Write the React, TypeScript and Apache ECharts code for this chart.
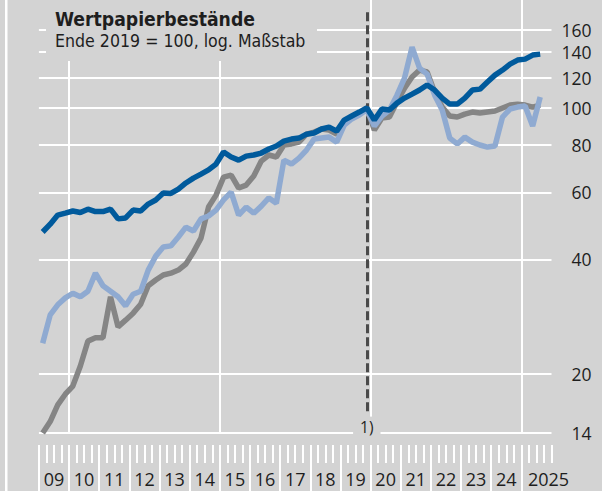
import React, { useEffect, useRef } from 'react';
import * as echarts from 'echarts';

// ---- data ----
const firstYear = 2009;
const lastYear = 2025;
const yearLabels = ['09', '10', '11', '12', '13', '14', '15', '16', '17', '18', '19', '20', '21', '22', '23', '24', '2025'];
const gridValues = [14, 20, 40, 60, 80, 100, 120, 140, 160];
const verticalGridYears = [2010, 2015, 2020, 2025];
const markerPeriod = 2019.875; // Q4 2019 (= 100)
const markerLabel = '1)';
const titleText = 'Wertpapierbestände';
const subtitleText = 'Ende 2019 = 100, log. Maßstab';

// quarterly values, 2009 Q1 ... 2025 Q3
const grayValues = [
  14.0, 15.0, 16.6, 17.7, 18.6, 21.0, 24.4, 24.9, 24.9, 31.9,
  26.6, 27.7, 28.9, 30.5, 34.1, 35.3, 36.4, 36.8, 37.5, 38.9,
  41.8, 45.5, 54.9, 59.0, 65.8, 66.6, 61.6, 62.7, 66.2, 72.5,
  75.2, 74.3, 79.9, 80.4, 81.3, 85.3, 86.4, 88.0, 87.4, 85.3,
  91.8, 94.6, 96.3, 100, 87.4, 94.0, 94.6, 103.6, 112.7, 120.5,
  125.7, 124.2, 110.0, 100.5, 95.2, 94.6, 96.3, 97.5, 96.9, 97.5,
  98.1, 99.9, 101.7, 102.3, 101.7, 100.5, 101.7,
];
const lightBlueValues = [
  24.1, 28.6, 30.4, 31.7, 32.6, 31.9, 33.0, 36.8, 34.1, 33.0,
  31.9, 30.2, 32.4, 33.0, 37.5, 40.8, 43.1, 43.4, 45.8, 48.6,
  47.5, 51.1, 52.0, 53.9, 57.3, 60.1, 52.3, 54.9, 52.9, 55.2,
  58.0, 56.2, 72.9, 71.2, 73.8, 77.5, 82.8, 83.3, 83.8, 81.3,
  90.1, 93.5, 95.7, 99, 89.6, 95.2, 98.7, 108.0, 119.7, 144.4,
  127.2, 122.7, 108.0, 98.7, 83.3, 80.4, 83.8, 81.3, 79.9, 78.9,
  79.4, 94.6, 99.3, 100.5, 101.1, 89.6, 106.8,
];
const darkBlueValues = [
  47.2, 49.5, 52.3, 52.9, 53.6, 53.1, 54.2, 53.4, 53.4, 54.2,
  51.1, 51.4, 53.9, 53.6, 55.9, 57.3, 59.8, 59.6, 61.2, 63.5,
  65.4, 67.0, 68.7, 71.2, 76.6, 74.3, 72.9, 74.7, 75.2, 76.1,
  78.0, 79.4, 81.8, 82.8, 83.3, 85.3, 85.9, 88.0, 89.0, 86.9,
  92.9, 95.2, 97.5, 100, 92.9, 99.3, 98.7, 102.9, 106.1, 108.7,
  111.4, 114.8, 111.4, 106.1, 102.3, 102.3, 106.1, 111.4, 112.0, 116.9,
  121.9, 125.7, 130.3, 133.5, 134.3, 137.6, 138.4,
];

// ---- styling ----
const BG = '#d3d3d3';
const FONT = '"Open Sans", "Noto Sans", sans-serif';
const TITLE_FONT = '"DejaVu Sans Condensed", "DejaVu Sans", sans-serif';
const TEXT = '#1e1e1e';
const WHITE = '#ffffff';

const toPoints = (vals: number[]) => vals.map((v, i) => [firstYear + (i + 0.5) / 4, v]);

const years: number[] = [];
for (let y = firstYear; y <= lastYear; y++) years.push(y);
const yearTicks = years.slice();
const quarterTicks: number[] = [];
years.forEach((y) => {
  quarterTicks.push(y + 0.25, y + 0.5, y + 0.75);
});
quarterTicks.push(lastYear + 1);
const labelPositions = years.map((y) => (y === lastYear ? y + 0.9 : y + 0.5));

export default function App() {
  const ref = useRef<HTMLDivElement>(null);
  useEffect(() => {
    if (!ref.current) return;
    const chart = echarts.init(ref.current, undefined, { renderer: 'svg' });
    const baseX = {
      type: 'value',
      min: firstYear,
      max: lastYear + 1,
      position: 'bottom',
      offset: 12,
      axisLine: { show: false },
      splitLine: { show: false },
    };
    const option: any = {
      animation: false,
      backgroundColor: BG,
      grid: { left: 38.9, right: 50.5, top: 0, bottom: 58, containLabel: false },
      xAxis: [
        {
          ...baseX,
          axisTick: { show: true, customValues: quarterTicks, length: 18, lineStyle: { color: WHITE, width: 2 } },
          axisLabel: {
            show: true,
            customValues: labelPositions,
            formatter: (v: number) => yearLabels[Math.floor(v + 1e-6) - firstYear] ?? '',
            fontSize: 18,
            fontFamily: FONT,
            color: TEXT,
            margin: 25,
          },
        },
        {
          ...baseX,
          axisTick: { show: true, customValues: yearTicks, length: 46, lineStyle: { color: WHITE, width: 2 } },
          axisLabel: { show: false },
        },
      ],
      yAxis: {
        type: 'log',
        logBase: 10,
        min: 14,
        max: 192,
        axisLine: { show: false },
        axisTick: { show: false },
        axisLabel: { show: false },
        splitLine: { show: false },
      },
      graphic: [
        { type: 'rect', shape: { x: 5, y: 0, width: 2.5, height: 491 }, style: { fill: WHITE }, z: 10, silent: true },
        { type: 'rect', shape: { x: 46, y: 0, width: 271, height: 61 }, style: { fill: BG }, z: 10, silent: true },
        {
          type: 'text', x: 55, y: 19.2, z: 11, silent: true,
          style: { text: titleText, fontSize: 19.2, fontWeight: 'bold', fontFamily: TITLE_FONT, fill: TEXT, verticalAlign: 'middle' },
        },
        {
          type: 'text', x: 55, y: 41, z: 11, silent: true,
          style: { text: subtitleText, fontSize: 17.6, fontFamily: TITLE_FONT, fill: TEXT, verticalAlign: 'middle' },
        },
      ],
      series: [
        {
          name: 'grau',
          type: 'line',
          data: toPoints(grayValues),
          symbol: 'none',
          lineStyle: { color: '#858585', width: 5.5 },
          markLine: {
            silent: true,
            symbol: 'none',
            z: 0,
            lineStyle: { color: WHITE, width: 2, type: 'solid' },
            label: {
              show: true,
              position: 'end',
              distance: 40,
              align: 'right',
              formatter: (p: any) => String(Math.round(p.value)),
              fontSize: 17.5,
              fontFamily: FONT,
              color: TEXT,
            },
            data: [
              ...gridValues.map((v) => ({ yAxis: v })),
              ...verticalGridYears.map((x) => ({ xAxis: x, label: { show: false } })),
            ],
          },
        },
        {
          name: 'hellblau',
          type: 'line',
          data: toPoints(lightBlueValues),
          symbol: 'none',
          lineStyle: { color: '#8faad1', width: 5.5 },
        },
        {
          name: 'dunkelblau',
          type: 'line',
          data: toPoints(darkBlueValues),
          symbol: 'none',
          lineStyle: { color: '#005a9c', width: 5.5 },
          markLine: {
            silent: true,
            symbol: 'none',
            z: 1,
            lineStyle: { color: '#4a4a4a', width: 3, type: [9, 4] },
            label: {
              show: true,
              position: 'end',
              distance: 1.5,
              formatter: markerLabel,
              fontSize: 15.5,
              fontFamily: FONT,
              color: TEXT,
              backgroundColor: BG,
              padding: [2, 7, 2, 7],
            },
            data: [[{ coord: [markerPeriod, 178.4] }, { coord: [markerPeriod, 15.6] }]],
          },
        },
      ],
    };
    chart.setOption(option);
    return () => chart.dispose();
  }, []);
  return <div ref={ref} style={{ position: 'fixed', left: 0, top: 0, width: 602, height: 491 }} />;
}
